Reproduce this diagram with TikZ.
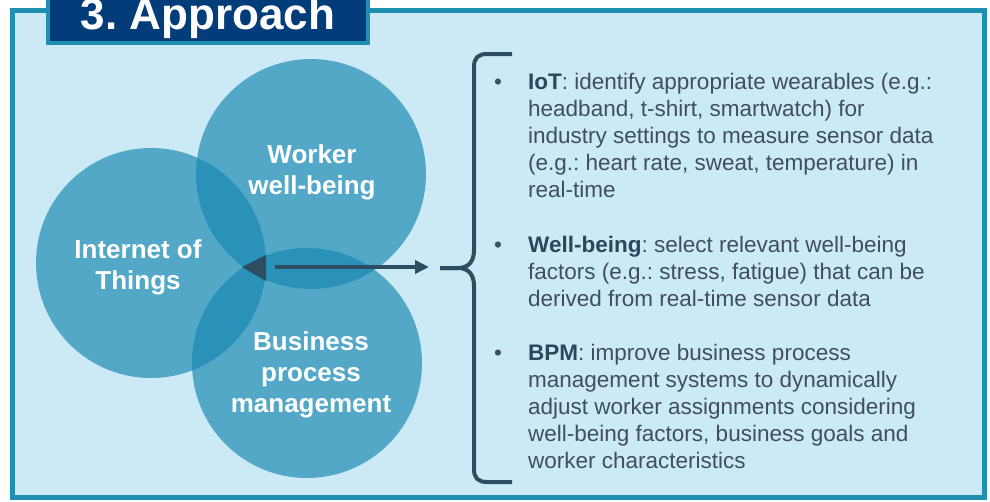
\documentclass[tikz,border=0pt]{standalone}
\usepackage{fontspec}
\setmainfont{Liberation Sans}
\usetikzlibrary{arrows.meta}
\definecolor{framec}{RGB}{32,144,178}
\definecolor{bgc}{RGB}{203,234,246}
\definecolor{navy}{RGB}{2,61,122}
\definecolor{vennc}{RGB}{22,135,177}
\definecolor{slate}{RGB}{47,77,96}
\definecolor{txt}{RGB}{62,80,93}
\definecolor{boldc}{RGB}{44,70,90}
\newcommand{\hl}[1]{\textbf{\color{boldc}#1}}
\frenchspacing
\begin{document}
\begin{tikzpicture}[x=1pt,y=-1pt,
  venn/.style={circle, minimum size=230pt, inner sep=0pt, draw=none, fill=vennc, fill opacity=0.66},
  vennlabel/.style={align=center, text=white, inner sep=0pt, font=\bfseries\fontsize{26}{31}\selectfont},
  titletext/.style={anchor=base, text=white, inner sep=0pt, font=\bfseries\fontsize{44}{50}\selectfont},
  bodyline/.style={anchor=base west, inner sep=0pt, text=txt, font=\frenchspacing\fontsize{22.5}{27}\selectfont},
  bulletmark/.style={anchor=base, inner sep=0pt, text=txt, font=\fontsize{22.5}{27}\selectfont},
  slateline/.style={draw=slate, line width=4pt}
]
\useasboundingbox (0,0) rectangle (990,501);
\fill[white] (0,0) rectangle (990,501);
% outer frame
\draw[framec, line width=5pt, fill=bgc] (12.5,10.5) rectangle (984,497.5);
% title
\draw[framec, line width=4pt, fill=navy] (48,-6) rectangle (368,43);
\node[titletext] (title) at (208,29) {3. Approach};
% venn circles
\node[venn] (wb) at (311,174) {};
\node[venn] (iot) at (151,263) {};
\node[venn] (bpm) at (307,363) {};
\node[vennlabel] (wbl) at (312,172) {Worker\\well-being};
\node[vennlabel] (iotl) at (138,267) {Internet of\\Things};
\node[vennlabel] (bpml) at (311,375) {Business\\process\\management};
% center triangle
\fill[slate] (242,267) -- (266,255) -- (266,281) -- cycle;
\coordinate (as) at (275,267);
\coordinate (ae) at (429,267);
\draw[slateline, -{Triangle[length=14pt,width=13pt]}] (as) -- (ae);
% brace
\draw[slateline] (512,54) -- (487,54) .. controls (478,54) and (474,58) .. (474,67)
  -- (474,250) .. controls (474,262) and (468,268) .. (458,268) -- (440,268);
\draw[slateline] (440,268) -- (458,268) .. controls (468,268) and (474,274) .. (474,286)
  -- (474,469) .. controls (474,478) and (478,482) .. (487,482) -- (512,482);
% bullets
\node[bulletmark] (b1) at (498,89) {•};
\node[bulletmark] (b2) at (498,252) {•};
\node[bulletmark] (b3) at (498,360) {•};
% IoT text
\node[bodyline] (t11) at (528,89) {\hl{IoT}: identify appropriate wearables (e.g.:};
\node[bodyline] (t12) at (528,116) {headband, t-shirt, smartwatch) for};
\node[bodyline] (t13) at (528,143) {industry settings to measure sensor data};
\node[bodyline] (t14) at (528,170) {(e.g.: heart rate, sweat, temperature) in};
\node[bodyline] (t15) at (528,197) {real-time};
% Well-being text
\node[bodyline] (t21) at (528,252) {\hl{Well-being}: select relevant well-being};
\node[bodyline] (t22) at (528,279) {factors (e.g.: stress, fatigue) that can be};
\node[bodyline] (t23) at (528,306) {derived from real-time sensor data};
% BPM text
\node[bodyline] (t31) at (528,360) {\hl{BPM}: improve business process};
\node[bodyline] (t32) at (528,387) {management systems to dynamically};
\node[bodyline] (t33) at (528,414) {adjust worker assignments considering};
\node[bodyline] (t34) at (528,441) {well-being factors, business goals and};
\node[bodyline] (t35) at (528,468) {worker characteristics};
\end{tikzpicture}
\end{document}
